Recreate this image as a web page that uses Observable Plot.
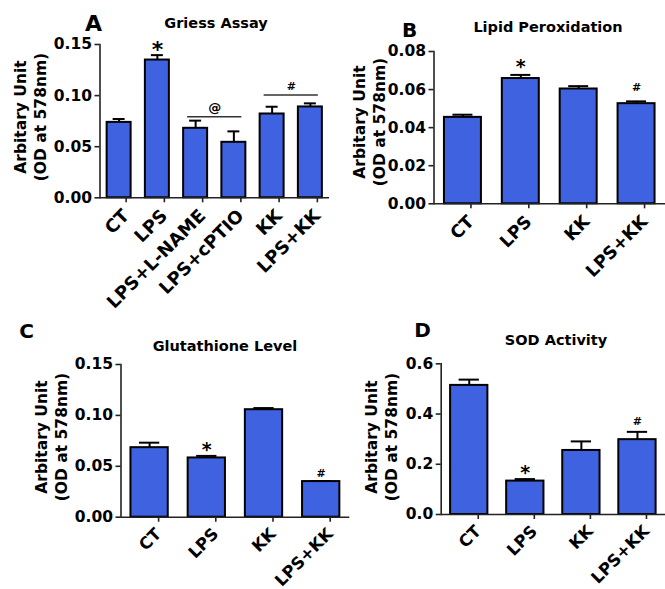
<!DOCTYPE html>
<html><head><meta charset="utf-8">
<script src="https://cdn.jsdelivr.net/npm/d3@7"></script>
<script src="https://cdn.jsdelivr.net/npm/@observablehq/plot@0.6"></script>
<style>
body{margin:0;background:#fff;}
#wrap{position:relative;width:665px;height:589px;background:#fff;font-family:"DejaVu Sans",sans-serif;font-weight:bold;overflow:hidden;color:#000}
.pl{position:absolute}
.t{position:absolute;transform:translate(-50%,-50%);white-space:nowrap;font-weight:bold;line-height:1}
.yl{position:absolute;transform:translate(-50%,-50%) rotate(-90deg);white-space:pre;text-align:center;line-height:20px;font-size:15.5px;font-weight:bold}
</style></head><body><div id="wrap"></div>
<script>
// ---- data ----
const catsA = ["CT","LPS","LPS+L-NAME","LPS+cPTIO","KK","LPS+KK"];
const meanA = [0.0738,0.1348,0.0680,0.0543,0.0820,0.0889];
const semA  = [0.0033,0.0048,0.0075,0.0107,0.0071,0.0035];
const cats4 = ["CT","LPS","KK","LPS+KK"];
const meanB = [0.0454,0.0658,0.0603,0.0526];
const semB  = [0.0014,0.0019,0.0015,0.0012];
const meanC = [0.0683,0.0582,0.1056,0.0350];
const semC  = [0.0049,0.0020,0.0016,0.0004];
const meanD = [0.514,0.133,0.255,0.298];
const semD  = [0.023,0.008,0.036,0.031];
const ticksA = [0,0.05,0.10,0.15];
const ticksB = [0,0.02,0.04,0.06,0.08];
const ticksC = [0,0.05,0.10,0.15];
const ticksD = [0,0.2,0.4,0.6];
const titles = ["Griess Assay","Lipid Peroxidation","Glutathione Level","SOD Activity"];
const letters = ["A","B","C","D"];
const yLabel = "Arbitary Unit\n(OD at 578nm)";
// significance symbols above error bars
const symA = [{label:"*", cat:"LPS"}];
const symB = [{label:"*", cat:"LPS"},{label:"#", cat:"LPS+KK"}];
const symC = [{label:"*", cat:"LPS"},{label:"#", cat:"LPS+KK"}];
const symD = [{label:"*", cat:"LPS"},{label:"#", cat:"LPS+KK"}];
// group brackets in panel A
const groupsA = [{label:"@", from:"LPS+L-NAME", to:"LPS+cPTIO", y:0.0794},
                 {label:"#", from:"KK", to:"LPS+KK", y:0.1006}];

const BAR = "#3f62e0", AX = "#222";
const wrap = document.getElementById("wrap");

function panel(cfg){
  const data = cfg.cats.map((c,i)=>({cat:c, mean:cfg.mean[i], top:cfg.mean[i]+cfg.sem[i]}));
  const topOf = Object.fromEntries(data.map(d=>[d.cat,d.top]));
  const step = (cfg.width - cfg.mL - cfg.mR)/cfg.cats.length;
  const marks = [
    Plot.ruleX(data,{x:"cat", y1:"mean", y2:"top", stroke:"#000", strokeWidth:2}),
    Plot.tickY(data,{x:"cat", y:"top", stroke:"#000", strokeWidth:2, insetLeft:cfg.cap, insetRight:cfg.cap}),
    Plot.barY(data,{x:"cat", y:"mean", fill:BAR, stroke:"#000", strokeWidth:2}),
    Plot.ruleY([0],{stroke:AX, strokeWidth:1.6}),
    Plot.frame({anchor:"left", stroke:AX, strokeWidth:1.6}),
    Plot.axisY(cfg.ticks,{tickSize:5, tickPadding:3, stroke:AX, strokeWidth:1.6, tickFormat:d3.format(cfg.fmt), label:null, fontSize:15.5}),
    Plot.axisX({tickRotate:-45, tickSize:5, tickPadding:cfg.xpad, dx:cfg.xdx, stroke:AX, strokeWidth:1.6, label:null, fontSize:cfg.xfs}),
    Plot.text(cfg.sym.filter(d=>d.label==="*"),{x:"cat", y:d=>topOf[d.cat], text:"label", fontSize:cfg.starSize, dy:cfg.starDy, fontWeight:"bold"}),
    Plot.text(cfg.sym.filter(d=>d.label==="#"),{x:"cat", y:d=>topOf[d.cat], text:"label", fontSize:11, dy:cfg.hashDy, fontWeight:"bold"})
  ];
  if (cfg.groups){
    marks.push(Plot.ruleY(cfg.groups,{x1:"from", x2:"to", y:"y", stroke:"#333", strokeWidth:1.5, insetLeft:4, insetRight:4}));
    marks.push(Plot.text(cfg.groups,{x:"from", y:"y", text:"label", dx:step/2, dy:-9, fontSize:d=>d.label==="@"?13:11, fontWeight:"bold"}));
  }
  const svg = Plot.plot({
    width:cfg.width, height:cfg.height,
    marginLeft:cfg.mL, marginRight:cfg.mR, marginTop:cfg.mT, marginBottom:cfg.mB,
    x:{type:"band", domain:cfg.cats, paddingInner:cfg.pi, paddingOuter:cfg.pi/2, round:false},
    y:{domain:[0, cfg.ticks[cfg.ticks.length-1]]},
    style:{background:"transparent", overflow:"visible", fontFamily:"DejaVu Sans", fontWeight:"bold", fontSize:"15.5px", color:"#000"},
    marks
  });
  svg.classList.add("pl");
  svg.style.left = cfg.left+"px"; svg.style.top = cfg.top+"px";
  wrap.appendChild(svg);
}

panel({cats:catsA, mean:meanA, sem:semA, ticks:ticksA, fmt:".2f", sym:symA, groups:groupsA, xfs:18, xpad:10, xdx:7,
  left:0, top:0, width:332, height:300, mL:99.5, mR:3, mT:44, mB:102.7, pi:0.373, cap:6, starSize:22, starDy:-5, hashDy:-12});
panel({cats:cats4, mean:meanB, sem:semB, ticks:ticksB, fmt:".2f", sym:symB, xfs:17.5, xpad:10, xdx:8,
  left:333, top:0, width:332, height:300, mL:100.5, mR:0, mT:51, mB:96.7, pi:0.361, cap:8.5, starSize:19, starDy:-8, hashDy:-14});
panel({cats:cats4, mean:meanC, sem:semC, ticks:ticksC, fmt:".2f", sym:symC, xfs:16.5, xpad:9, xdx:9,
  left:0, top:300, width:350, height:289, mL:120.5, mR:0.7, mT:64, mB:72.3, pi:0.348, cap:8.5, starSize:19, starDy:-6, hashDy:-8});
panel({cats:cats4, mean:meanD, sem:semD, ticks:ticksD, fmt:".1f", sym:symD, xfs:16.5, xpad:9, xdx:9,
  left:333, top:300, width:332, height:289, mL:107.7, mR:0, mT:63.3, mB:75, pi:0.335, cap:8.5, starSize:19, starDy:-6, hashDy:-10});

// titles, panel letters, y labels
const letterPos = [[93.5,23.5,22],[409.5,29.5,20],[26.5,330.5,20],[422.5,329.5,20]];
const titlePos = [[216,23],[548,26.5],[225,346],[556,340]];
const ylPos = [[31,117],[369.5,122],[51.5,437],[381.5,437]];
function addDiv(cls, txt, x, y, fs){
  const d = document.createElement("div");
  d.className = cls; d.textContent = txt;
  d.style.left = x+"px"; d.style.top = y+"px";
  if (fs) d.style.fontSize = fs+"px";
  wrap.appendChild(d);
}
letters.forEach((l,i)=>addDiv("t", l, letterPos[i][0], letterPos[i][1], letterPos[i][2]));
titles.forEach((t,i)=>addDiv("t", t, titlePos[i][0], titlePos[i][1], 14.5));
ylPos.forEach(p=>addDiv("yl", yLabel, p[0], p[1]));
</script></body></html>
